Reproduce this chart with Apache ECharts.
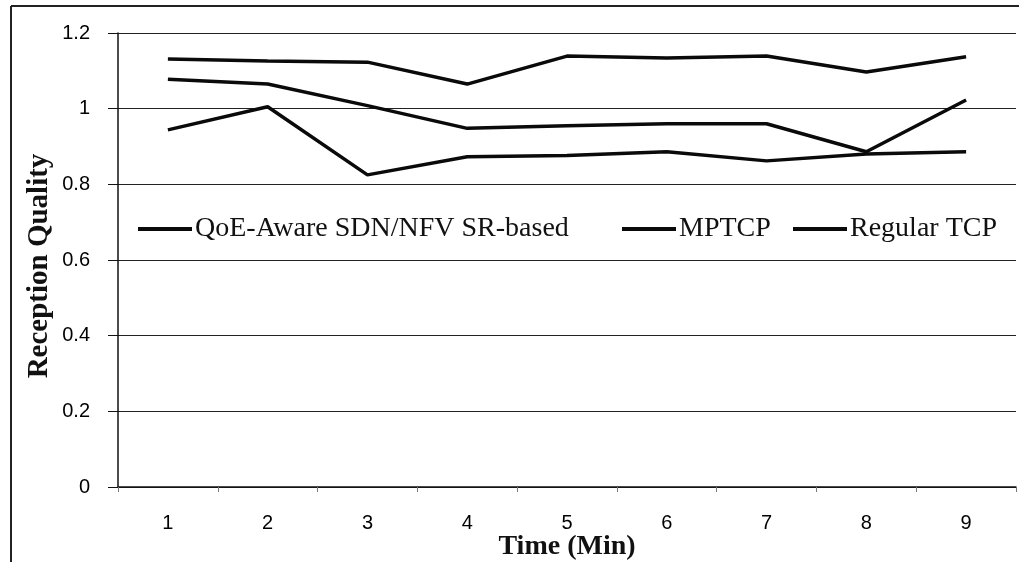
<!DOCTYPE html>
<html>
<head>
<meta charset="utf-8">
<script src="https://cdn.jsdelivr.net/npm/echarts@6/dist/echarts.min.js"></script>
<style>
html,body{margin:0;padding:0;background:#fff;}
#c{width:1019px;height:562px;}
</style>
</head>
<body>
<div id="c"></div>
<script>
const categories = ['1','2','3','4','5','6','7','8','9'];
const seriesNames = ['QoE-Aware SDN/NFV SR-based', 'MPTCP', 'Regular TCP'];
const qoeAware = [1.131, 1.126, 1.123, 1.065, 1.139, 1.134, 1.139, 1.097, 1.137];
const mptcp = [1.078, 1.065, 1.008, 0.948, 0.955, 0.960, 0.960, 0.886, 1.023];
const regularTcp = [0.944, 1.005, 0.825, 0.873, 0.876, 0.886, 0.862, 0.880, 0.886];
const yTicks = { min: 0, max: 1.2, interval: 0.2 };

const serif = '"Liberation Serif", "Times New Roman", serif';
const sans = '"Liberation Sans", Arial, sans-serif';
const chart = echarts.init(document.getElementById('c'), null, { renderer: 'canvas' });

const legendLefts = [138, 622, 793];
const legends = seriesNames.map((n, i) => ({
  data: [n],
  left: legendLefts[i],
  top: 215,
  icon: 'rect',
  itemWidth: 54,
  itemHeight: 4,
  itemGap: 0,
  padding: 0,
  textStyle: { fontFamily: serif, fontSize: 28, color: '#111', padding: [0, 0, 0, -2] }
}));

const mkSeries = (name, data) => ({
  name: name,
  type: 'line',
  data: data,
  symbol: 'none',
  lineStyle: { color: '#0a0a0a', width: 3.5 },
  itemStyle: { color: '#0a0a0a' }
});

chart.setOption({
  animation: false,
  backgroundColor: '#fff',
  legend: legends,
  grid: { left: 118, right: 3, top: 33, bottom: 75, containLabel: false, outerBoundsMode: 'none' },
  xAxis: {
    type: 'category',
    data: categories,
    boundaryGap: true,
    name: 'Time (Min)',
    nameLocation: 'middle',
    nameGap: 46,
    nameMoveOverlap: false,
    nameTextStyle: { fontFamily: serif, fontSize: 28, fontWeight: 'bold', color: '#111' },
    axisLine: { lineStyle: { color: '#111', width: 1.5 } },
    axisTick: { show: true, length: 5, inside: false, lineStyle: { color: '#777' } },
    axisLabel: { fontFamily: sans, fontSize: 20, color: '#000', margin: 26 }
  },
  yAxis: {
    type: 'value',
    min: yTicks.min,
    max: yTicks.max,
    interval: yTicks.interval,
    name: 'Reception Quality',
    nameLocation: 'middle',
    nameRotate: 90,
    nameGap: 64,
    nameMoveOverlap: false,
    nameTextStyle: { fontFamily: serif, fontSize: 29, fontWeight: 'bold', color: '#111', padding: [0, 12, 0, 0] },
    axisLine: { show: true, lineStyle: { color: '#111', width: 1.5 } },
    axisTick: { show: true, length: 10, lineStyle: { color: '#111' } },
    axisLabel: { fontFamily: sans, fontSize: 20, color: '#000', margin: 28,
      formatter: v => String(Math.round(v * 10) / 10) },
    splitLine: { show: true, lineStyle: { color: '#222', width: 1.2 } }
  },
  graphic: [
    { type: 'line', shape: { x1: 11, y1: 6, x2: 1019, y2: 6 }, style: { stroke: '#222', lineWidth: 2 } },
    { type: 'line', shape: { x1: 11, y1: 6, x2: 11, y2: 562 }, style: { stroke: '#222', lineWidth: 2 } }
  ],
  series: [
    mkSeries(seriesNames[0], qoeAware),
    mkSeries(seriesNames[1], mptcp),
    mkSeries(seriesNames[2], regularTcp)
  ]
});
</script>
</body>
</html>
